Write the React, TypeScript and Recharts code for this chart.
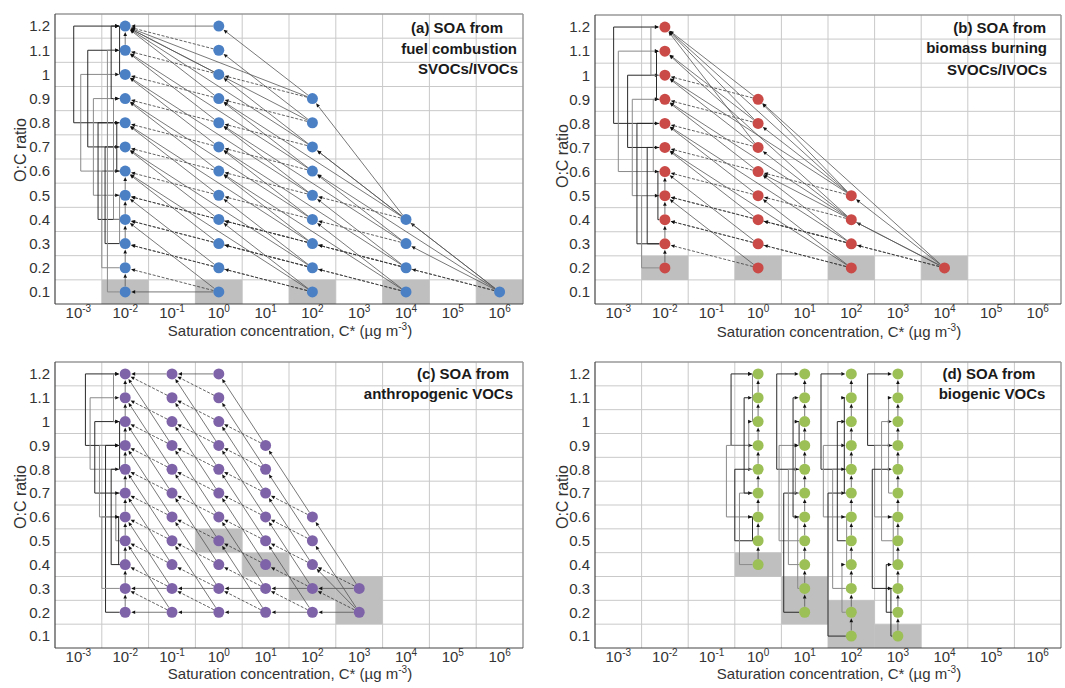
import React from 'react';
import {
  ComposedChart,
  Scatter,
  XAxis,
  YAxis,
  CartesianGrid,
  ReferenceLine,
  ReferenceArea,
} from 'recharts';

type Col = { logC: number; oc: number[] };
type Box = { logC: number; ocLow: number; ocHigh: number };
type Edge = [number, number, number, number, 'd' | 's'];
type Bracket = [number, number, number, number];

const FONT = '"Liberation Sans", Arial, Helvetica, sans-serif';

// axes
const logCTicks = [-3, -2, -1, 0, 1, 2, 3, 4, 5, 6];
const ocTicks = [0.1, 0.2, 0.3, 0.4, 0.5, 0.6, 0.7, 0.8, 0.9, 1, 1.1, 1.2];
const gridLogC = [-2.5, -1.5, -0.5, 0.5, 1.5, 2.5, 3.5, 4.5, 5.5];
const gridOC = [0.15, 0.25, 0.35, 0.45, 0.55, 0.65, 0.75, 0.85, 0.95, 1.05, 1.15];
const logCDomain = [-3.5, 6.5];
const ocDomain = [0.05, 1.25];

// ---------- (a) fuel combustion SVOCs/IVOCs ----------
const aColumns: Col[] = [
  { logC: -2, oc: [0.1, 0.2, 0.3, 0.4, 0.5, 0.6, 0.7, 0.8, 0.9, 1, 1.1, 1.2] },
  { logC: 0, oc: [0.1, 0.2, 0.3, 0.4, 0.5, 0.6, 0.7, 0.8, 0.9, 1, 1.1, 1.2] },
  { logC: 2, oc: [0.1, 0.2, 0.3, 0.4, 0.5, 0.6, 0.7, 0.8, 0.9] },
  { logC: 4, oc: [0.1, 0.2, 0.3, 0.4] },
  { logC: 6, oc: [0.1] },
];
const aBoxes: Box[] = [
  { logC: -2, ocLow: 0.1, ocHigh: 0.1 },
  { logC: 0, ocLow: 0.1, ocHigh: 0.1 },
  { logC: 2, ocLow: 0.1, ocHigh: 0.1 },
  { logC: 4, ocLow: 0.1, ocHigh: 0.1 },
  { logC: 6, ocLow: 0.1, ocHigh: 0.1 },
];
const aEdges: Edge[] = [
  [0, 0.1, -2, 0.2, 'd'], [0, 0.2, -2, 0.3, 'd'], [0, 0.3, -2, 0.4, 'd'], [0, 0.4, -2, 0.5, 'd'],
  [0, 0.5, -2, 0.6, 'd'], [0, 0.6, -2, 0.7, 'd'], [0, 0.7, -2, 0.8, 'd'], [0, 0.8, -2, 0.9, 'd'],
  [0, 0.9, -2, 1.0, 'd'], [0, 1.0, -2, 1.1, 'd'], [0, 1.1, -2, 1.2, 'd'],
  [2, 0.1, 0, 0.2, 'd'], [2, 0.2, 0, 0.3, 'd'], [2, 0.3, 0, 0.4, 'd'], [2, 0.4, 0, 0.5, 'd'],
  [2, 0.5, 0, 0.6, 'd'], [2, 0.6, 0, 0.7, 'd'], [2, 0.7, 0, 0.8, 'd'], [2, 0.8, 0, 0.9, 'd'],
  [2, 0.9, 0, 1.0, 'd'],
  [4, 0.1, 2, 0.2, 'd'], [4, 0.2, 2, 0.3, 'd'], [4, 0.3, 2, 0.4, 'd'], [4, 0.4, 2, 0.5, 'd'],
  [6, 0.1, 4, 0.2, 'd'],
  [2, 0.1, -2, 0.3, 'd'], [2, 0.2, -2, 0.4, 'd'], [2, 0.3, -2, 0.5, 'd'],
  [4, 0.1, 0, 0.3, 'd'], [4, 0.2, 0, 0.4, 'd'], [6, 0.1, 2, 0.3, 'd'],
  [0, 0.1, -2, 0.4, 's'], [0, 0.2, -2, 0.5, 's'], [0, 0.3, -2, 0.6, 's'], [0, 0.4, -2, 0.7, 's'],
  [0, 0.5, -2, 0.8, 's'], [0, 0.6, -2, 0.9, 's'], [0, 0.7, -2, 1.0, 's'], [0, 0.8, -2, 1.1, 's'],
  [0, 0.9, -2, 1.2, 's'], [0, 1.0, -2, 1.2, 's'],
  [2, 0.1, 0, 0.4, 's'], [2, 0.2, 0, 0.5, 's'], [2, 0.3, 0, 0.6, 's'], [2, 0.4, 0, 0.7, 's'],
  [2, 0.5, 0, 0.8, 's'], [2, 0.6, 0, 0.9, 's'], [2, 0.7, 0, 1.0, 's'], [2, 0.8, 0, 1.1, 's'],
  [2, 0.9, 0, 1.2, 's'],
  [4, 0.1, 2, 0.4, 's'], [4, 0.2, 2, 0.5, 's'], [4, 0.3, 2, 0.6, 's'], [4, 0.4, 2, 0.7, 's'],
  [4, 0.4, 2, 0.9, 's'], [6, 0.1, 4, 0.4, 's'], [6, 0.1, 4, 0.3, 's'],
  [2, 0.1, -2, 0.6, 's'], [2, 0.2, -2, 0.7, 's'], [2, 0.3, -2, 0.8, 's'], [2, 0.4, -2, 0.9, 's'],
  [2, 0.5, -2, 1.0, 's'], [2, 0.6, -2, 1.1, 's'], [2, 0.7, -2, 1.2, 's'], [2, 0.8, -2, 1.2, 's'],
  [2, 0.9, -2, 1.2, 's'],
  [4, 0.1, 0, 0.6, 's'], [4, 0.2, 0, 0.7, 's'], [4, 0.3, 0, 0.8, 's'], [4, 0.4, 0, 0.9, 's'],
  [6, 0.1, 2, 0.6, 's'], [6, 0.1, 2, 0.7, 's'],
  [0, 1.2, -2, 1.2, 's'], [0, 0.1, -2, 0.1, 's'],
  [-2, 0.1, -2, 0.2, 's'], [-2, 0.2, -2, 0.3, 's'], [-2, 0.3, -2, 0.4, 's'], [-2, 0.4, -2, 0.5, 's'],
  [-2, 0.5, -2, 0.6, 's'], [-2, 1.1, -2, 1.2, 's'],
];
const aBrackets: Bracket[] = [
  [-2, 0.8, 1.2, 1.1], [-2, 0.6, 1.0, 0.95], [-2, 0.7, 1.1, 0.8], [-2, 0.5, 0.9, 0.68],
  [-2, 0.4, 0.8, 0.58], [-2, 0.2, 0.6, 0.5], [-2, 0.3, 0.7, 0.43], [-2, 0.1, 1.1, 0.38],
  [-2, 0.9, 1.2, 0.3], [-2, 0.4, 0.9, 0.25], [-2, 0.6, 0.8, 0.18], [-2, 0.3, 0.5, 0.12],
  [-2, 1.0, 1.2, 0.12],
];

// ---------- (b) biomass burning SVOCs/IVOCs ----------
const bColumns: Col[] = [
  { logC: -2, oc: [0.2, 0.3, 0.4, 0.5, 0.6, 0.7, 0.8, 0.9, 1, 1.1, 1.2] },
  { logC: 0, oc: [0.2, 0.3, 0.4, 0.5, 0.6, 0.7, 0.8, 0.9] },
  { logC: 2, oc: [0.2, 0.3, 0.4, 0.5] },
  { logC: 4, oc: [0.2] },
];
const bBoxes: Box[] = [
  { logC: -2, ocLow: 0.2, ocHigh: 0.2 },
  { logC: 0, ocLow: 0.2, ocHigh: 0.2 },
  { logC: 2, ocLow: 0.2, ocHigh: 0.2 },
  { logC: 4, ocLow: 0.2, ocHigh: 0.2 },
];
const bEdges: Edge[] = [
  [0, 0.2, -2, 0.3, 'd'], [0, 0.3, -2, 0.4, 'd'], [0, 0.4, -2, 0.5, 'd'], [0, 0.5, -2, 0.6, 'd'],
  [0, 0.6, -2, 0.7, 'd'], [0, 0.7, -2, 0.8, 'd'], [0, 0.8, -2, 0.9, 'd'], [0, 0.9, -2, 1.0, 'd'],
  [2, 0.2, 0, 0.3, 'd'], [2, 0.3, 0, 0.4, 'd'], [2, 0.4, 0, 0.5, 'd'], [2, 0.5, 0, 0.6, 'd'],
  [4, 0.2, 2, 0.3, 'd'], [2, 0.2, -2, 0.4, 'd'], [2, 0.3, -2, 0.5, 'd'], [4, 0.2, 0, 0.4, 'd'],
  [0, 0.2, -2, 0.5, 's'], [0, 0.3, -2, 0.6, 's'], [0, 0.4, -2, 0.7, 's'], [0, 0.5, -2, 0.8, 's'],
  [0, 0.6, -2, 0.9, 's'], [0, 0.7, -2, 1.0, 's'], [0, 0.8, -2, 1.1, 's'], [0, 0.9, -2, 1.2, 's'],
  [0, 0.7, -2, 1.2, 's'], [0, 0.8, -2, 1.2, 's'],
  [2, 0.2, 0, 0.5, 's'], [2, 0.3, 0, 0.6, 's'], [2, 0.4, 0, 0.7, 's'], [2, 0.5, 0, 0.8, 's'],
  [2, 0.5, 0, 0.9, 's'], [4, 0.2, 2, 0.5, 's'], [4, 0.2, 2, 0.4, 's'], [4, 0.2, 0, 0.9, 's'],
  [4, 0.2, 0, 0.6, 's'],
  [2, 0.2, -2, 0.7, 's'], [2, 0.3, -2, 0.8, 's'], [2, 0.4, -2, 0.9, 's'], [2, 0.5, -2, 1.0, 's'],
  [2, 0.4, -2, 1.1, 's'], [2, 0.5, -2, 1.2, 's'],
  [-2, 0.2, -2, 0.3, 's'], [-2, 0.3, -2, 0.4, 's'], [-2, 0.4, -2, 0.5, 's'], [-2, 0.5, -2, 0.6, 's'],
];
const bBrackets: Bracket[] = [
  [-2, 0.8, 1.2, 1.1], [-2, 0.6, 1.1, 1.0], [-2, 0.7, 1.0, 0.8], [-2, 0.5, 0.9, 0.7],
  [-2, 0.3, 0.8, 0.6], [-2, 0.2, 0.5, 0.5], [-2, 0.3, 0.7, 0.38], [-2, 0.6, 0.9, 0.25],
  [-2, 0.4, 0.6, 0.15], [-2, 1.0, 1.2, 0.3], [-2, 0.9, 1.1, 0.18],
];

// ---------- (c) anthropogenic VOCs ----------
const cColumns: Col[] = [
  { logC: -2, oc: [0.2, 0.3, 0.4, 0.5, 0.6, 0.7, 0.8, 0.9, 1, 1.1, 1.2] },
  { logC: -1, oc: [0.2, 0.3, 0.4, 0.5, 0.6, 0.7, 0.8, 0.9, 1, 1.1, 1.2] },
  { logC: 0, oc: [0.2, 0.3, 0.4, 0.5, 0.6, 0.7, 0.8, 0.9, 1, 1.1, 1.2] },
  { logC: 1, oc: [0.2, 0.3, 0.4, 0.5, 0.6, 0.7, 0.8, 0.9] },
  { logC: 2, oc: [0.2, 0.3, 0.4, 0.5, 0.6] },
  { logC: 3, oc: [0.2, 0.3] },
];
const cBoxes: Box[] = [
  { logC: 0, ocLow: 0.5, ocHigh: 0.5 },
  { logC: 1, ocLow: 0.4, ocHigh: 0.4 },
  { logC: 2, ocLow: 0.3, ocHigh: 0.3 },
  { logC: 3, ocLow: 0.2, ocHigh: 0.3 },
];
const cEdges: Edge[] = [
  [-1, 0.2, -2, 0.3, 'd'], [-1, 0.3, -2, 0.4, 'd'], [-1, 0.4, -2, 0.5, 'd'], [-1, 0.5, -2, 0.6, 'd'],
  [-1, 0.6, -2, 0.7, 'd'], [-1, 0.7, -2, 0.8, 'd'], [-1, 0.8, -2, 0.9, 'd'], [-1, 0.9, -2, 1.0, 'd'],
  [-1, 1.0, -2, 1.1, 'd'], [-1, 1.1, -2, 1.2, 'd'],
  [0, 0.2, -1, 0.3, 'd'], [0, 0.3, -1, 0.4, 'd'], [0, 0.4, -1, 0.5, 'd'], [0, 0.5, -1, 0.6, 'd'],
  [0, 0.6, -1, 0.7, 'd'], [0, 0.7, -1, 0.8, 'd'], [0, 0.8, -1, 0.9, 'd'], [0, 0.9, -1, 1.0, 'd'],
  [0, 1.0, -1, 1.1, 'd'], [0, 1.1, -1, 1.2, 'd'],
  [1, 0.2, 0, 0.3, 'd'], [1, 0.3, 0, 0.4, 'd'], [1, 0.4, 0, 0.5, 'd'], [1, 0.5, 0, 0.6, 'd'],
  [1, 0.6, 0, 0.7, 'd'], [1, 0.7, 0, 0.8, 'd'], [1, 0.8, 0, 0.9, 'd'], [1, 0.9, 0, 1.0, 'd'],
  [2, 0.2, 1, 0.3, 'd'], [2, 0.3, 1, 0.4, 'd'], [2, 0.4, 1, 0.5, 'd'], [2, 0.5, 1, 0.6, 'd'],
  [2, 0.6, 1, 0.7, 'd'], [3, 0.2, 2, 0.3, 'd'], [3, 0.3, 2, 0.4, 'd'],
  [-1, 0.2, -2, 0.5, 's'], [-1, 0.3, -2, 0.6, 's'], [-1, 0.4, -2, 0.7, 's'], [-1, 0.5, -2, 0.8, 's'],
  [-1, 0.6, -2, 0.9, 's'], [-1, 0.7, -2, 1.0, 's'], [-1, 0.8, -2, 1.1, 's'], [-1, 0.9, -2, 1.2, 's'],
  [0, 0.2, -1, 0.5, 's'], [0, 0.3, -1, 0.6, 's'], [0, 0.4, -1, 0.7, 's'], [0, 0.5, -1, 0.8, 's'],
  [0, 0.6, -1, 0.9, 's'], [0, 0.7, -1, 1.0, 's'], [0, 0.8, -1, 1.1, 's'], [0, 0.9, -1, 1.2, 's'],
  [1, 0.2, 0, 0.5, 's'], [1, 0.3, 0, 0.6, 's'], [1, 0.4, 0, 0.7, 's'], [1, 0.5, 0, 0.8, 's'],
  [1, 0.6, 0, 0.9, 's'], [1, 0.7, 0, 1.0, 's'], [1, 0.8, 0, 1.1, 's'], [1, 0.9, 0, 1.2, 's'],
  [2, 0.2, 1, 0.5, 's'], [2, 0.3, 1, 0.6, 's'], [2, 0.4, 1, 0.7, 's'], [2, 0.5, 1, 0.8, 's'],
  [2, 0.6, 1, 0.9, 's'], [3, 0.2, 2, 0.5, 's'], [3, 0.3, 2, 0.6, 's'], [3, 0.2, 2, 0.4, 's'],
  [3, 0.2, 2, 0.2, 's'], [2, 0.2, 1, 0.2, 's'], [1, 0.2, 0, 0.2, 's'], [0, 0.2, -1, 0.2, 's'],
  [-1, 0.2, -2, 0.2, 's'],
  [3, 0.3, 2, 0.3, 's'], [2, 0.3, 1, 0.3, 's'], [1, 0.3, 0, 0.3, 's'], [0, 0.3, -1, 0.3, 's'],
  [-1, 0.3, -2, 0.3, 's'],
  [0, 1.2, -1, 1.2, 's'], [-1, 1.2, -2, 1.2, 's'],
  [-2, 0.2, -2, 0.3, 's'], [-2, 0.3, -2, 0.4, 's'], [-2, 0.4, -2, 0.5, 's'], [-2, 0.5, -2, 0.6, 's'],
  [-2, 0.6, -2, 0.7, 's'], [-2, 0.7, -2, 0.8, 's'], [-2, 0.8, -2, 0.9, 's'], [-2, 0.9, -2, 1.0, 's'],
  [-2, 1.0, -2, 1.1, 's'], [-2, 1.1, -2, 1.2, 's'],
];
const cBrackets: Bracket[] = [
  [-2, 0.9, 1.2, 0.85], [-2, 0.8, 1.1, 0.75], [-2, 0.7, 1.0, 0.65], [-2, 0.6, 0.9, 0.55],
  [-2, 0.2, 0.9, 0.42], [-2, 0.3, 0.6, 0.5], [-2, 0.4, 0.8, 0.3], [-2, 0.5, 0.7, 0.2],
  [-2, 0.4, 0.6, 0.14], [-2, 1.0, 1.2, 0.25], [-2, 0.8, 1.0, 0.12],
];

// ---------- (d) biogenic VOCs ----------
const dColumns: Col[] = [
  { logC: 0, oc: [0.4, 0.5, 0.6, 0.7, 0.8, 0.9, 1, 1.1, 1.2] },
  { logC: 1, oc: [0.2, 0.3, 0.4, 0.5, 0.6, 0.7, 0.8, 0.9, 1, 1.1, 1.2] },
  { logC: 2, oc: [0.1, 0.2, 0.3, 0.4, 0.5, 0.6, 0.7, 0.8, 0.9, 1, 1.1, 1.2] },
  { logC: 3, oc: [0.1, 0.2, 0.3, 0.4, 0.5, 0.6, 0.7, 0.8, 0.9, 1, 1.1, 1.2] },
];
const dBoxes: Box[] = [
  { logC: 0, ocLow: 0.4, ocHigh: 0.4 },
  { logC: 1, ocLow: 0.2, ocHigh: 0.3 },
  { logC: 2, ocLow: 0.1, ocHigh: 0.2 },
  { logC: 3, ocLow: 0.1, ocHigh: 0.1 },
];
const dEdges: Edge[] = [
  [0, 0.4, 0, 0.5, 's'], [0, 0.5, 0, 0.6, 's'], [0, 0.6, 0, 0.7, 's'], [0, 0.7, 0, 0.8, 's'],
  [0, 0.8, 0, 0.9, 's'], [0, 0.9, 0, 1.0, 's'], [0, 1.0, 0, 1.1, 's'], [0, 1.1, 0, 1.2, 's'],
  [1, 0.2, 1, 0.3, 's'], [1, 0.3, 1, 0.4, 's'], [1, 0.4, 1, 0.5, 's'], [1, 0.5, 1, 0.6, 's'],
  [1, 0.6, 1, 0.7, 's'], [1, 0.7, 1, 0.8, 's'], [1, 0.8, 1, 0.9, 's'], [1, 0.9, 1, 1.0, 's'],
  [1, 1.0, 1, 1.1, 's'], [1, 1.1, 1, 1.2, 's'],
  [2, 0.1, 2, 0.2, 's'], [2, 0.2, 2, 0.3, 's'], [2, 0.3, 2, 0.4, 's'], [2, 0.4, 2, 0.5, 's'],
  [2, 0.5, 2, 0.6, 's'], [2, 0.6, 2, 0.7, 's'], [2, 0.7, 2, 0.8, 's'], [2, 0.8, 2, 0.9, 's'],
  [2, 0.9, 2, 1.0, 's'], [2, 1.0, 2, 1.1, 's'], [2, 1.1, 2, 1.2, 's'],
  [3, 0.1, 3, 0.2, 's'], [3, 0.2, 3, 0.3, 's'], [3, 0.3, 3, 0.4, 's'], [3, 0.4, 3, 0.5, 's'],
  [3, 0.5, 3, 0.6, 's'], [3, 0.6, 3, 0.7, 's'], [3, 0.7, 3, 0.8, 's'], [3, 0.8, 3, 0.9, 's'],
  [3, 0.9, 3, 1.0, 's'], [3, 1.0, 3, 1.1, 's'], [3, 1.1, 3, 1.2, 's'],
];
const dBrackets: Bracket[] = [
  [0, 0.9, 1.2, 0.58], [0, 0.6, 0.9, 0.68], [0, 0.5, 0.8, 0.5], [0, 0.4, 0.7, 0.4],
  [0, 0.7, 1.1, 0.3], [0, 0.8, 1.0, 0.2], [0, 0.5, 0.6, 0.12], [0, 1.0, 1.2, 0.12],
  [1, 0.8, 1.2, 0.6], [1, 0.5, 0.9, 0.55], [1, 0.2, 0.7, 0.45], [1, 0.4, 0.8, 0.35],
  [1, 0.6, 1.1, 0.25], [1, 0.3, 0.6, 0.15], [1, 0.9, 1.0, 0.12], [1, 0.7, 0.9, 0.2],
  [2, 0.8, 1.2, 0.65], [2, 0.6, 0.9, 0.6], [2, 0.1, 0.7, 0.5], [2, 0.3, 0.8, 0.4],
  [2, 0.5, 1.0, 0.3], [2, 0.2, 0.4, 0.2], [2, 0.7, 1.1, 0.15], [2, 0.4, 0.6, 0.1],
  [3, 0.9, 1.2, 0.65], [3, 0.6, 0.9, 0.5], [3, 0.3, 0.8, 0.55], [3, 0.5, 1.0, 0.35],
  [3, 0.2, 0.4, 0.25], [3, 0.7, 1.1, 0.2], [3, 0.1, 0.3, 0.15], [3, 0.4, 0.6, 0.1],
];

// ---------- drawing helpers ----------
const DOT_R = 5.5;

function makeLinkShape(stroke: string, width: number, dash: string | undefined, head: boolean, cutStart: number, cutEnd: number) {
  return (p: any) => {
    const { x1, y1, x2, y2 } = p;
    const dx = x2 - x1;
    const dy = y2 - y1;
    const len = Math.hypot(dx, dy) || 1;
    const ux = dx / len;
    const uy = dy / len;
    const sx = x1 + ux * cutStart;
    const sy = y1 + uy * cutStart;
    const ex = x2 - ux * cutEnd;
    const ey = y2 - uy * cutEnd;
    const hl = 4;
    const hw = 1.8;
    const bx = ex - ux * hl;
    const by = ey - uy * hl;
    return (
      <g>
        <line x1={sx} y1={sy} x2={head ? bx : ex} y2={head ? by : ey} stroke={stroke} strokeWidth={width} strokeDasharray={dash} />
        {head && (
          <polygon
            points={`${ex},${ey} ${bx - uy * hw},${by + ux * hw} ${bx + uy * hw},${by - ux * hw}`}
            fill="#111"
          />
        )}
      </g>
    );
  };
}

const dashedLink = makeLinkShape('#3a3a3a', 0.8, '3 1.6', true, DOT_R, DOT_R + 0.5);
const solidLink = makeLinkShape('#555', 0.8, undefined, true, DOT_R, DOT_R + 0.5);
const bracketDark = makeLinkShape('#2a2a2a', 1, undefined, false, 0, 0);
const bracketLight = makeLinkShape('#8a8a8a', 1, undefined, false, 0, 0);
const bracketStartDark = makeLinkShape('#2a2a2a', 1, undefined, false, DOT_R, 0);
const bracketStartLight = makeLinkShape('#8a8a8a', 1, undefined, false, DOT_R, 0);
const bracketEndDark = makeLinkShape('#2a2a2a', 1, undefined, true, 0, DOT_R + 0.5);
const bracketEndLight = makeLinkShape('#8a8a8a', 1, undefined, true, 0, DOT_R + 0.5);

const PowTick = (props: any) => {
  const { x, y, payload } = props;
  return (
    <text x={x} y={y + 14} textAnchor="middle" fontSize={15} fill="#333" fontFamily={FONT}>
      10
      <tspan dy={-6} fontSize={10}>{String(payload.value)}</tspan>
    </text>
  );
};

type PanelProps = {
  cols: Col[];
  boxes: Box[];
  edges: Edge[];
  brackets: Bracket[];
  color: string;
  width: number;
  height: number;
  margin: { top: number; right: number; bottom: number; left: number };
};

function Panel({ cols, boxes, edges, brackets, color, width, height, margin }: PanelProps) {
  const points = cols.flatMap((c) => c.oc.map((o) => ({ logC: c.logC, oc: o })));
  const dot = (p: any) => <circle cx={p.cx} cy={p.cy} r={DOT_R} fill={color} />;
  return (
    <ComposedChart width={width} height={height} margin={margin}>
      <CartesianGrid horizontalValues={gridOC} verticalValues={gridLogC} stroke="#c9c9c9" strokeWidth={1} />
      <XAxis
        type="number"
        dataKey="logC"
        domain={logCDomain}
        ticks={logCTicks}
        interval={0}
        allowDataOverflow
        tick={<PowTick />}
        tickLine={false}
        tickSize={0}
        tickMargin={0}
        axisLine={{ stroke: '#444', strokeWidth: 1.2 }}
        height={30}
      />
      <YAxis
        type="number"
        dataKey="oc"
        domain={ocDomain}
        ticks={ocTicks}
        interval={0}
        allowDataOverflow
        tickLine={false}
        tickSize={0}
        tickMargin={5}
        axisLine={{ stroke: '#444', strokeWidth: 1.2 }}
        width={45}
        tick={{ fontSize: 15, fill: '#333', fontFamily: FONT }}
      />
      <ReferenceLine y={1.25} stroke="#999" strokeWidth={1.5} ifOverflow="visible" />
      <ReferenceLine x={6.5} stroke="#999" strokeWidth={1.5} ifOverflow="visible" />
      {boxes.map((b, i) => (
        <ReferenceArea
          key={`box${i}`}
          x1={b.logC - 0.5}
          x2={b.logC + 0.5}
          y1={Math.max(b.ocLow - 0.05, ocDomain[0])}
          y2={b.ocHigh + 0.05}
          fill="#bfbfbf"
          fillOpacity={1}
          stroke="none"
          ifOverflow="visible"
        />
      ))}
      {brackets.map(([x, o1, o2, depth], i) => {
        const dark = i % 2 === 0;
        const xl = x - depth;
        return (
          <React.Fragment key={`br${i}`}>
            <ReferenceLine
              segment={[{ x, y: o1 }, { x: xl, y: o1 }]}
              ifOverflow="visible"
              shape={dark ? bracketStartDark : bracketStartLight}
            />
            <ReferenceLine
              segment={[{ x: xl, y: o1 }, { x: xl, y: o2 }]}
              ifOverflow="visible"
              shape={dark ? bracketDark : bracketLight}
            />
            <ReferenceLine
              segment={[{ x: xl, y: o2 }, { x, y: o2 }]}
              ifOverflow="visible"
              shape={dark ? bracketEndDark : bracketEndLight}
            />
          </React.Fragment>
        );
      })}
      {edges.map(([x1, o1, x2, o2, k], i) => (
        <ReferenceLine
          key={`ed${i}`}
          segment={[{ x: x1, y: o1 }, { x: x2, y: o2 }]}
          ifOverflow="visible"
          shape={k === 'd' ? dashedLink : solidLink}
        />
      ))}
      <Scatter data={points} dataKey="oc" fill={color} shape={dot} isAnimationActive={false} />
    </ComposedChart>
  );
}

const titleStyle = { fontFamily: FONT, fontSize: 15, fontWeight: 700, fill: '#1a1a1a' } as const;
const axisTitleStyle = { fontFamily: FONT, fontSize: 15, fill: '#333' } as const;

function XTitle({ x, y }: { x: number; y: number }) {
  return (
    <text x={x} y={y} textAnchor="middle" style={axisTitleStyle}>
      Saturation concentration, C* (µg m<tspan dy={-6} fontSize={10}>-3</tspan>
      <tspan dy={6}>)</tspan>
    </text>
  );
}

function YTitle({ x, y }: { x: number; y: number }) {
  return (
    <text x={x} y={y} textAnchor="middle" dominantBaseline="central" transform={`rotate(-90 ${x} ${y})`} style={{ ...axisTitleStyle, fontSize: 16 }}>
      O:C ratio
    </text>
  );
}

export default function App() {
  return (
    <div style={{ position: 'absolute', left: 0, top: 0, width: 1065, height: 688, background: '#fff', overflow: 'hidden' }}>
      <div style={{ position: 'absolute', left: 0, top: 0 }}>
        <Panel cols={aColumns} boxes={aBoxes} edges={aEdges} brackets={aBrackets} color="#4c80c5"
          width={530} height={340} margin={{ top: 14, right: 7, bottom: 6, left: 10 }} />
      </div>
      <div style={{ position: 'absolute', left: 532, top: 0 }}>
        <Panel cols={bColumns} boxes={bBoxes} edges={bEdges} brackets={bBrackets} color="#c94a47"
          width={533} height={340} margin={{ top: 15, right: 4, bottom: 6, left: 18 }} />
      </div>
      <div style={{ position: 'absolute', left: 0, top: 330 }}>
        <Panel cols={cColumns} boxes={cBoxes} edges={cEdges} brackets={cBrackets} color="#7f63a9"
          width={530} height={358} margin={{ top: 32, right: 7, bottom: 10, left: 10 }} />
      </div>
      <div style={{ position: 'absolute', left: 532, top: 330 }}>
        <Panel cols={dColumns} boxes={dBoxes} edges={dEdges} brackets={dBrackets} color="#9cbf56"
          width={533} height={358} margin={{ top: 32, right: 4, bottom: 10, left: 18 }} />
      </div>
      <svg width={1065} height={688} style={{ position: 'absolute', left: 0, top: 0, pointerEvents: 'none' }}>
        <YTitle x={20} y={150} />
        <YTitle x={562} y={156} />
        <YTitle x={20} y={497} />
        <YTitle x={562} y={497} />
        <XTitle x={290} y={336} />
        <XTitle x={839} y={337} />
        <XTitle x={290} y={679} />
        <XTitle x={839} y={679} />
        <text x={503} y={33} textAnchor="end" style={titleStyle}>(a) SOA from</text>
        <text x={517} y={54} textAnchor="end" style={titleStyle}>fuel combustion</text>
        <text x={518} y={74} textAnchor="end" style={titleStyle}>SVOCs/IVOCs</text>
        <text x={1046} y={33} textAnchor="end" style={titleStyle}>(b) SOA from</text>
        <text x={1047} y={53} textAnchor="end" style={titleStyle}>biomass burning</text>
        <text x={1047} y={75} textAnchor="end" style={titleStyle}>SVOCs/IVOCs</text>
        <text x={509} y={379} textAnchor="end" style={titleStyle}>(c) SOA from</text>
        <text x={513} y={399} textAnchor="end" style={titleStyle}>anthropogenic VOCs</text>
        <text x={989} y={379} textAnchor="middle" style={titleStyle}>(d) SOA from</text>
        <text x={992} y={399} textAnchor="middle" style={titleStyle}>biogenic VOCs</text>
      </svg>
    </div>
  );
}
